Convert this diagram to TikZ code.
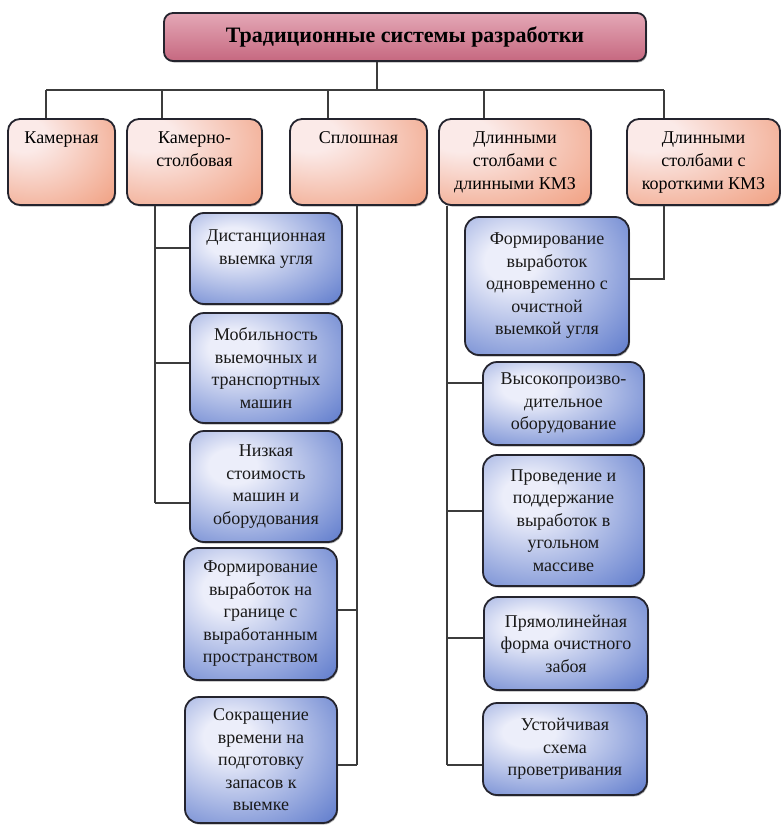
\documentclass[tikz,border=0pt]{standalone}
\usepackage{fontspec}
\setmainfont{Liberation Serif}
\usetikzlibrary{positioning,shadows}

\definecolor{rozlight}{HTML}{F4CAD3}
\definecolor{rozdark}{HTML}{C66880}
\definecolor{lososlight}{HTML}{FBEAE8}
\definecolor{lososdark}{HTML}{F09C7C}
\definecolor{sinlight}{HTML}{ECEEFA}
\definecolor{sindark}{HTML}{4C6CC6}
\definecolor{rama}{HTML}{24242E}
\definecolor{liniya}{HTML}{3C3C3C}

\pgfdeclareradialshading{lososfill}{\pgfpoint{-20bp}{18bp}}{color(0bp)=(lososlight); color(10bp)=(lososlight); color(50bp)=(lososdark); color(90bp)=(lososdark)}
\pgfdeclareradialshading{sinfill}{\pgfpoint{-12bp}{10bp}}{color(0bp)=(sinlight); color(8bp)=(sinlight); color(48bp)=(sindark); color(90bp)=(sindark)}

\begin{document}
\begin{tikzpicture}[x=1pt,y=-1pt]
\tikzset{
	glav/.style={draw=rama, line width=1.8pt, rounded corners=9pt, inner sep=0pt,
		top color=rozlight!65!rozdark, middle color=rozlight, bottom color=rozdark,
		drop shadow={shadow xshift=1pt, shadow yshift=-1.5pt, fill=black!60},
		font=\fontsize{22}{26}\selectfont\bfseries},
	sys/.style={draw=rama, line width=1.8pt, rounded corners=12pt, inner sep=0pt,
		shade, shading=lososfill,
		drop shadow={shadow xshift=1pt, shadow yshift=-1.5pt, fill=black!60}},
	pr/.style={draw=rama, line width=1.8pt, rounded corners=14pt, inner sep=0pt,
		shade, shading=sinfill, align=center, text=black!90,
		drop shadow={shadow xshift=1pt, shadow yshift=-1.5pt, fill=black!60},
		font=\fontsize{18}{22.5}\selectfont},
	txt/.style={align=center, inner sep=0pt, font=\fontsize{18}{23}\selectfont},
	sv/.style={draw=liniya, line width=1.1pt}
}
\useasboundingbox (0,0) rectangle (781,827);

% главный блок
\node[glav, minimum width=482pt, minimum height=48pt] (t_0) at (405,37) {Традиционные системы разработки};

% системы
\node[sys, minimum width=107pt, minimum height=86pt] (c_1) at (61.5,162) {};
\node[sys, minimum width=135pt, minimum height=86pt] (c_2) at (194.5,162) {};
\node[sys, minimum width=137pt, minimum height=86pt] (c_3) at (358.5,162) {};
\node[sys, minimum width=152pt, minimum height=86pt] (c_4) at (515,162) {};
\node[sys, minimum width=153pt, minimum height=86pt] (c_5) at (703.5,162) {};
\node[txt, below=13pt of c_1.north] (c_1t) {Камерная};
\node[txt, below=13pt of c_2.north] (c_2t) {Камерно-\\столбовая};
\node[txt, below=13pt of c_3.north] (c_3t) {Сплошная};
\node[txt, below=13pt of c_4.north] (c_4t) {Длинными\\столбами с\\длинными КМЗ};
\node[txt, below=13pt of c_5.north] (c_5t) {Длинными\\столбами с\\короткими КМЗ};

% преимущества слева
\node[pr, minimum width=152pt, minimum height=91pt] (f_1) at (266,258.5) {Дистанционная\\выемка угля\\\mbox{}};
\node[pr, minimum width=152pt, minimum height=110pt] (f_2) at (266,368) {Мобильность\\выемочных и\\транспортных\\машин};
\node[pr, minimum width=152pt, minimum height=111pt] (f_3) at (266,486.5) {Низкая\\стоимость\\машин и\\оборудования};
\node[pr, minimum width=153pt, minimum height=132pt] (f_4) at (260.5,614) {Формирование\\выработок на\\границе с\\выработанным\\пространством};
\node[pr, minimum width=152pt, minimum height=126pt] (f_5) at (261,760) {Сокращение\\времени на\\подготовку\\запасов к\\выемке};

% преимущества справа
\node[pr, minimum width=164pt, minimum height=138pt] (g_1) at (547,286) {Формирование\\выработок\\одновременно с\\очистной\\выемкой угля};
\node[pr, minimum width=161pt, minimum height=83pt] (g_2) at (563.5,403.5) {Высокопроизво-\\дительное\\оборудование};
\node[pr, minimum width=161pt, minimum height=131pt] (g_3) at (563.5,520.5) {Проведение и\\поддержание\\выработок в\\угольном\\массиве};
\node[pr, minimum width=164pt, minimum height=93pt] (g_4) at (566,643.5) {Прямолинейная\\форма очистного\\забоя};
\node[pr, minimum width=164pt, minimum height=92pt] (g_5) at (565,749) {Устойчивая\\схема\\проветривания};

% шина сверху
\coordinate (s_0) at (377,90);
\coordinate (s_1) at (46,90);
\coordinate (s_2) at (162,90);
\coordinate (s_3) at (328,90);
\coordinate (s_4) at (484,90);
\coordinate (s_5) at (664,90);
\draw[sv] (t_0.south -| s_0) -- (s_0);
\draw[sv] (s_1) -- (s_5);
\draw[sv] (s_1) -- (s_1 |- c_1.north);
\draw[sv] (s_2) -- (s_2 |- c_2.north);
\draw[sv] (s_3) -- (s_3 |- c_3.north);
\draw[sv] (s_4) -- (s_4 |- c_4.north);
\draw[sv] (s_5) -- (s_5 |- c_5.north);

% отводы: камерно-столбовая
\coordinate (p_1) at (155,248);
\coordinate (p_2) at (155,363);
\coordinate (p_3) at (155,503);
\draw[sv] (c_2.south -| p_1) -- (p_3);
\draw[sv] (p_1) -- (p_1 -| f_1.west);
\draw[sv] (p_2) -- (p_2 -| f_2.west);
\draw[sv] (p_3) -- (p_3 -| f_3.west);

% отводы: сплошная
\coordinate (p_4) at (357,610);
\coordinate (p_5) at (357,765);
\draw[sv] (c_3.south -| p_4) -- (p_5);
\draw[sv] (p_4) -- (p_4 -| f_4.east);
\draw[sv] (p_5) -- (p_5 -| f_5.east);

% отводы: длинные КМЗ
\coordinate (q_2) at (447,383);
\coordinate (q_3) at (447,511);
\coordinate (q_4) at (447,638);
\coordinate (q_5) at (447,765);
\draw[sv] (c_4.south -| q_2) -- (q_5);
\draw[sv] (q_2) -- (q_2 -| g_2.west);
\draw[sv] (q_3) -- (q_3 -| g_3.west);
\draw[sv] (q_4) -- (q_4 -| g_4.west);
\draw[sv] (q_5) -- (q_5 -| g_5.west);

% отвод: короткие КМЗ
\coordinate (q_1) at (664,279);
\draw[sv] (c_5.south -| q_1) -- (q_1) -- (q_1 -| g_1.east);

\end{tikzpicture}
\end{document}
